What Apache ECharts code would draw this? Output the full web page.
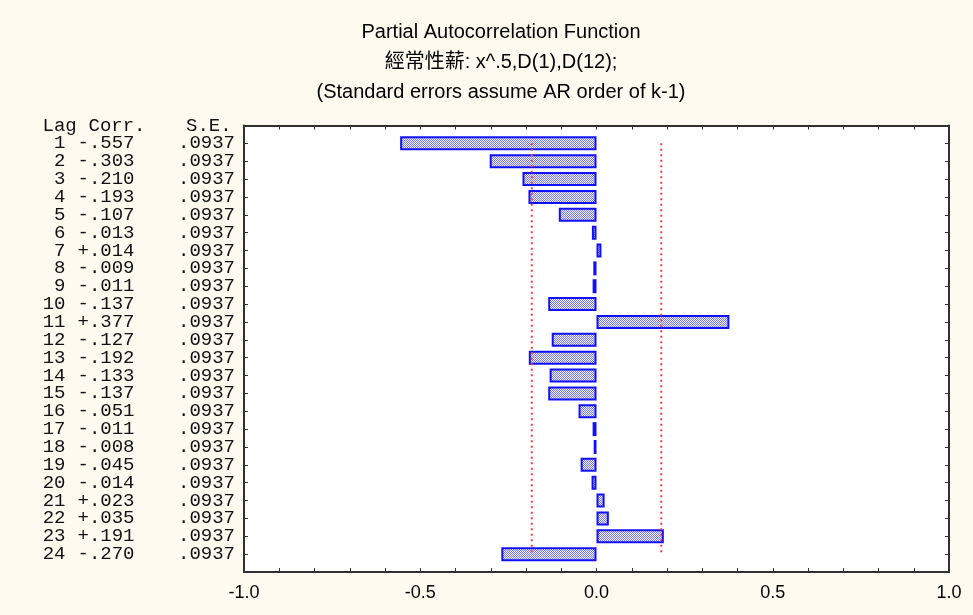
<!DOCTYPE html>
<html>
<head>
<meta charset="utf-8">
<script src="https://cdn.jsdelivr.net/npm/echarts@6/dist/echarts.min.js"></script>
<style>
  html, body { margin: 0; padding: 0; background: #FFFAF0; }
  #chart { width: 973px; height: 615px; }
</style>
</head>
<body>
<div id="chart"></div>
<script>
// Partial autocorrelations by lag, with their standard errors
const lags = [1, 2, 3, 4, 5, 6, 7, 8, 9, 10, 11, 12, 13, 14, 15, 16, 17, 18, 19, 20, 21, 22, 23, 24];
const corr = [-0.557, -0.303, -0.210, -0.193, -0.107, -0.013, 0.014, -0.009, -0.011, -0.137, 0.377, -0.127,
              -0.192, -0.133, -0.137, -0.051, -0.011, -0.008, -0.045, -0.014, 0.023, 0.035, 0.191, -0.270];
const stdErr = [0.0937, 0.0937, 0.0937, 0.0937, 0.0937, 0.0937, 0.0937, 0.0937, 0.0937, 0.0937, 0.0937, 0.0937,
                0.0937, 0.0937, 0.0937, 0.0937, 0.0937, 0.0937, 0.0937, 0.0937, 0.0937, 0.0937, 0.0937, 0.0937];
const xTicks = [-1.0, -0.5, 0.0, 0.5, 1.0];
const titleLines = [
  'Partial Autocorrelation Function',
  '經常性薪: x^.5,D(1),D(12);',
  '(Standard errors assume AR order of k-1)'
];

// 95% confidence limit (1.96 standard errors)
const limit = 1.96 * stdErr[0];

// Row slots: a header slot on top, one per lag, and an empty slot at the bottom
const slots = ['hdr'].concat(lags.map(String), ['end']);
const barData = [null].concat(corr, [null]);

function fmtCorr(v) {
  return (v < 0 ? '-' : '+') + Math.abs(v).toFixed(3).slice(1);
}
function fmtSE(v) {
  return v.toFixed(4).slice(1);
}

// Hatched fill for the bars
const pat = document.createElement('canvas');
pat.width = 4; pat.height = 4;
(function () {
  const c = pat.getContext('2d');
  c.fillStyle = '#f2f2ff';
  c.fillRect(0, 0, 4, 4);
  c.fillStyle = '#7878f2';
  for (let y = 0; y < 4; y++) {
    for (let x = 0; x < 4; x++) {
      if ((x + y) % 2 === 0) c.fillRect(x, y, 1, 1);
    }
  }
})();

const mono = '"Liberation Mono", "Courier New", monospace';
const sans = '"Liberation Sans", Arial, "Noto Sans CJK TC", sans-serif';
const frame = '#303030';

const chart = echarts.init(document.getElementById('chart'), null, { renderer: 'canvas' });

const xAxisBase = {
  type: 'value', min: -1, max: 1, interval: 0.5,
  axisLine: { show: true, onZero: false, lineStyle: { color: frame, width: 2 } },
  axisTick: { show: true, inside: true, length: 4, lineStyle: { color: frame, width: 1 } },
  minorTick: { show: true, splitNumber: 5, length: 4, lineStyle: { color: frame, width: 1 } },
  splitLine: { show: false },
  minorSplitLine: { show: false }
};

const yAxisBase = {
  type: 'category', data: slots, inverse: true, boundaryGap: false,
  axisLine: { show: true, onZero: false, lineStyle: { color: frame, width: 2 } },
  axisTick: { show: true, inside: true, length: 4, interval: 0, lineStyle: { color: frame, width: 1 } },
  splitLine: { show: false }
};

const tok = { fontFamily: mono, fontSize: 19, color: '#111', lineHeight: 18 };

chart.setOption({
  backgroundColor: '#FFFAF0',
  animation: false,
  title: {
    text: titleLines.join('\n'),
    left: 501, top: 17, textAlign: 'center', padding: 0,
    textStyle: { fontFamily: sans, fontSize: 20, fontWeight: 'normal', color: '#000', lineHeight: 30 }
  },
  grid: {
    left: 244, right: 24, top: 125.5, bottom: 43,
    show: true, backgroundColor: '#ffffff', borderWidth: 0
  },
  xAxis: [
    Object.assign({}, xAxisBase, {
      position: 'bottom',
      axisLabel: {
        show: true, margin: 12, color: '#000', fontFamily: sans, fontSize: 18,
        formatter: function (v) {
          return xTicks.some(function (t) { return Math.abs(t - v) < 1e-9; }) ? v.toFixed(1) : '';
        }
      }
    }),
    Object.assign({}, xAxisBase, {
      position: 'top',
      axisLabel: { show: false }
    })
  ],
  yAxis: [
    Object.assign({}, yAxisBase, {
      position: 'left',
      axisLabel: {
        show: true, interval: 0, margin: 9, align: 'right', verticalAlign: 'middle',
        formatter: function (val, idx) {
          if (idx === 0) return '{ha|Lag}{hb|Corr.}{hc|S.E.}';
          if (idx > lags.length) return '';
          const i = idx - 1;
          return '{a|' + lags[i] + '}{b|' + fmtCorr(corr[i]) + '}{c|' + fmtSE(stdErr[i]) + '}';
        },
        rich: {
          ha: Object.assign({ width: 46, align: 'left' }, tok),
          hb: Object.assign({ width: 97.5, align: 'left' }, tok),
          hc: Object.assign({ width: 49, align: 'left' }, tok),
          a: Object.assign({ width: 23, align: 'right' }, tok),
          b: Object.assign({ width: 69, align: 'right' }, tok),
          c: Object.assign({ width: 100.5, align: 'right' }, tok)
        }
      }
    }),
    Object.assign({}, yAxisBase, {
      position: 'right',
      axisLabel: { show: false }
    })
  ],
  series: [
    {
      type: 'bar',
      xAxisIndex: 0, yAxisIndex: 0,
      data: barData,
      barWidth: 14,
      itemStyle: {
        color: { image: pat, repeat: 'repeat' },
        borderColor: '#1010ff',
        borderWidth: 2
      },
      silent: true,
      z: 2
    },
    {
      type: 'line',
      xAxisIndex: 0, yAxisIndex: 0,
      data: [[-limit, '1'], [-limit, String(lags[lags.length - 1])]],
      symbol: 'none',
      lineStyle: { color: '#ff3c3c', width: 2, type: [2, 3.5] },
      silent: true,
      z: 5
    },
    {
      type: 'line',
      xAxisIndex: 0, yAxisIndex: 0,
      data: [[limit, '1'], [limit, String(lags[lags.length - 1])]],
      symbol: 'none',
      lineStyle: { color: '#ff3c3c', width: 2, type: [2, 3.5] },
      silent: true,
      z: 5
    }
  ]
});
</script>
</body>
</html>
